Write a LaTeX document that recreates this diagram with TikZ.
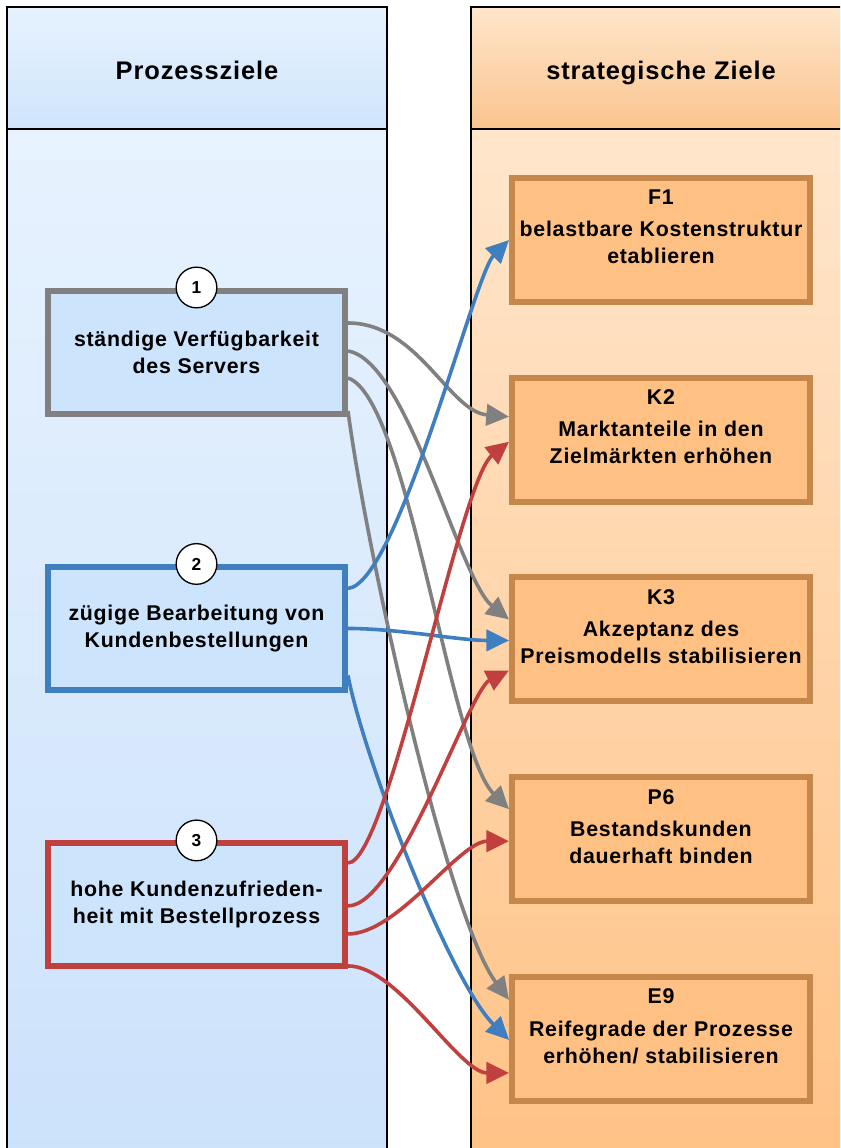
\documentclass[tikz,border=0pt]{standalone}
\usepackage{fontspec}
\setmainfont{Liberation Sans}[LetterSpace=3.5]
\usepackage{tikz}
\usetikzlibrary{positioning, calc, arrows.meta}
\definecolor{headblue}{HTML}{CFE5FC}
\definecolor{laneblue}{HTML}{CCE2FB}
\definecolor{lanetopblue}{HTML}{E7F2FE}
\definecolor{headorange}{HTML}{FAC48E}
\definecolor{laneorange}{HTML}{FFC286}
\definecolor{lanetoporange}{HTML}{FFE6CC}
\definecolor{boxfill}{HTML}{CCE4FC}
\definecolor{goalfill}{HTML}{FFC183}
\definecolor{goalframe}{HTML}{C5874A}
\definecolor{linkgray}{HTML}{808080}
\definecolor{linkblue}{HTML}{3F7FC0}
\definecolor{linkred}{HTML}{C0403F}
\newcommand{\zielfont}{\fontsize{16}{20.25}\selectfont\bfseries}
\newcommand{\lanefont}{\fontsize{19.1}{22}\selectfont\bfseries}

\begin{document}
\begin{tikzpicture}[x=0.75pt, y=-0.75pt,
  prozess/.style={rectangle, 
      draw=#1, 
      line width=4.5pt, 
      fill=boxfill, 
      minimum width=222.75pt, 
      minimum height=92.25pt, 
      inner sep=0pt, 
      align=center, 
      font=\zielfont},
  strategie/.style={rectangle, 
      draw=goalframe, 
      line width=4.5pt, 
      fill=goalfill, 
      minimum width=223.5pt, 
      minimum height=93pt, 
      inner sep=0pt},
  zieltext/.style={inner sep=0pt, align=center, font=\zielfont},
  nummer/.style={circle, 
      draw=black, 
      line width=1pt, 
      fill=white, 
      minimum size=30.5pt, 
      inner sep=0pt, 
      font=\fontsize{13}{14}\selectfont\bfseries},
  link/.style={line width=2.7pt, draw=#1, 
      -{Triangle[length=17pt, width=16pt]}}]

  \useasboundingbox (0,0) rectangle (840,1148);
  \clip (0,0) rectangle (840,1148);
  \fill[white] (0,0) rectangle (840,1148);

% LANES

  \shade[top color=lanetopblue, bottom color=laneblue] (7,129) rectangle (387,1160);
  \shade[top color=lanetopblue, bottom color=headblue] (7,7) rectangle (387,129);
  \shade[top color=lanetoporange, bottom color=laneorange] (471,129) rectangle (850,1160);
  \shade[top color=lanetoporange, bottom color=headorange] (471,7) rectangle (850,129);
  \draw[line width=1.5pt] (7,1160) |- (387,7) -- (387,1160);
  \draw[line width=1.5pt] (471,1160) |- (850,7);
  \draw[line width=1.5pt] (7,129) -- (387,129);
  \draw[line width=1.5pt] (471,129) -- (850,129);

  \node[font=\lanefont, anchor=base] (prozesstitle) at (197,80) {Prozessziele};
  \node[font=\lanefont, anchor=base] (strategtitle) at (661,80) {strategische Ziele};

% PROZESSZIELE

  \node[prozess=linkgray] (verfuegbarkeit) at (196.5,352) {ständige Verfügbarkeit\\des Servers};
  \node[prozess=linkblue, below=110.6pt of verfuegbarkeit] (bearbeitung) {zügige Bearbeitung von\\Kundenbestellungen};
  \node[prozess=linkred, below=110.6pt of bearbeitung] (zufriedenheit) {hohe Kundenzufrieden-\\heit mit Bestellprozess};

  \node[nummer] (nummer1) at (verfuegbarkeit.north) {1};
  \node[nummer] (nummer2) at (bearbeitung.north) {2};
  \node[nummer] (nummer3) at (zufriedenheit.north) {3};

% STRATEGISCHE ZIELE

  \node[strategie] (kosten) at (661,240) {};
  \node[strategie, below=52.3pt of kosten] (marktanteile) {};
  \node[strategie, below=52.3pt of marktanteile] (preismodell) {};
  \node[strategie, below=52.3pt of preismodell] (bestandskunden) {};
  \node[strategie, below=52.3pt of bestandskunden] (reifegrade) {};

  \node[zieltext, below=11pt of kosten.north] (kostentext) {F1\\[4pt]belastbare Kostenstruktur\\etablieren};
  \node[zieltext, below=11pt of marktanteile.north] (marktanteiletext) {K2\\[4pt]Marktanteile in den\\Zielmärkten erhöhen};
  \node[zieltext, below=11pt of preismodell.north] (preismodelltext) {K3\\[4pt]Akzeptanz des\\Preismodells stabilisieren};
  \node[zieltext, below=11pt of bestandskunden.north] (bestandskundentext) {P6\\[4pt]Bestandskunden\\dauerhaft binden};
  \node[zieltext, below=11pt of reifegrade.north] (reifegradetext) {E9\\[4pt]Reifegrade der Prozesse\\erhöhen/ stabilisieren};

% LINKS

  \draw[link=linkgray] ($(verfuegbarkeit.east)+(0,-29)$) 
    .. controls +(70,0) and +(-60,-5) .. ($(marktanteile.west)+(0,-23)$);
  \draw[link=linkgray] ($(verfuegbarkeit.east)+(0,-1)$) 
    .. controls +(60,10) and +(-50,-40) .. ($(preismodell.west)+(0,-20)$);
  \draw[link=linkgray] ($(verfuegbarkeit.east)+(0,26)$) 
    .. controls +(60,20) and +(-60,-60) .. ($(bestandskunden.west)+(0,-30)$);
  \draw[link=linkgray] ($(verfuegbarkeit.east)+(0,59)$) 
    .. controls +(20,150) and +(-60,-80) .. ($(reifegrade.west)+(0,-39)$);

  \draw[link=linkblue] ($(bearbeitung.east)+(0,-40)$) 
    .. controls +(50,-5) and +(-35,35) .. (kosten.west);
  \draw[link=linkblue] (bearbeitung.east) 
    .. controls +(50,0) and +(-50,0) .. ($(preismodell.west)+(0,1)$);
  \draw[link=linkblue] ($(bearbeitung.east)+(0,47)$) 
    .. controls +(15,80) and +(-60,-60) .. ($(reifegrade.west)+(0,1)$);

  \draw[link=linkred] ($(zufriedenheit.east)+(0,-42)$) 
    .. controls +(40,0) and +(-50,40) .. ($(marktanteile.west)+(0,2)$);
  \draw[link=linkred] ($(zufriedenheit.east)+(0,1)$) 
    .. controls +(50,0) and +(-40,20) .. ($(preismodell.west)+(0,31)$);
  \draw[link=linkred] ($(zufriedenheit.east)+(0,29)$) 
    .. controls +(50,0) and +(-50,0) .. ($(bestandskunden.west)+(0,2)$);
  \draw[link=linkred] ($(zufriedenheit.east)+(0,61)$) 
    .. controls +(50,0) and +(-50,0) .. ($(reifegrade.west)+(0,34)$);

\end{tikzpicture}
\end{document}
